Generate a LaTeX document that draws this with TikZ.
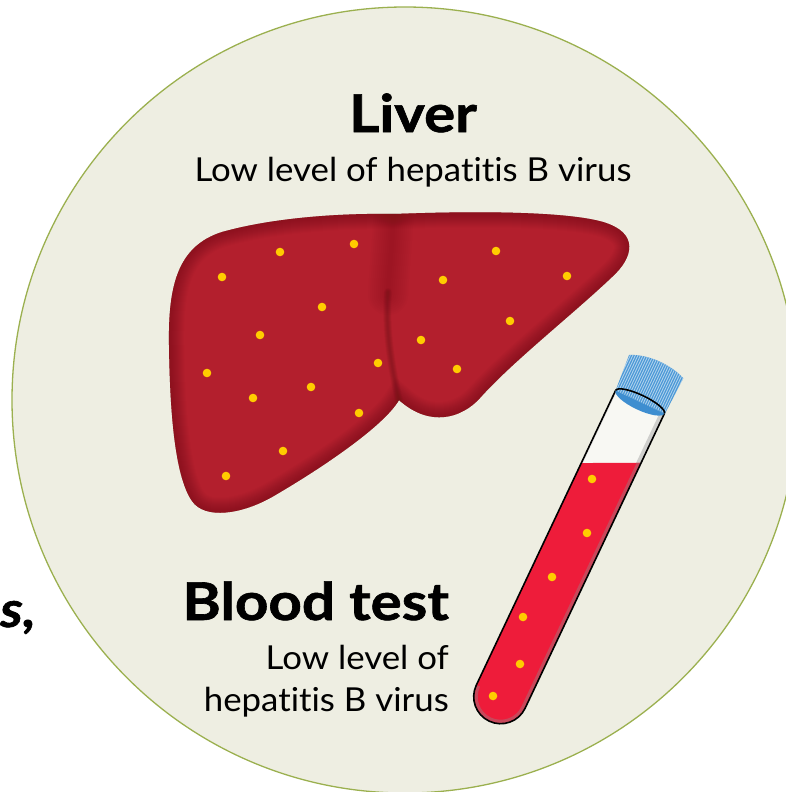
\documentclass[tikz,border=0pt]{standalone}
\usepackage{fontspec}
\setmainfont{Lato}[Ligatures=NoCommon]
\newfontfamily\headfont{Lato}[Ligatures=NoCommon, FakeStretch=1.12, FakeBold=1.2]
\newfontfamily\bodyfont{Lato}[Ligatures=NoCommon, FakeStretch=1.055]
\begin{document}
\begin{tikzpicture}[x=1pt,y=-1pt,
  heading/.style={inner sep=0pt, font=\headfont\bfseries\fontsize{52}{60}\selectfont},
  subtext/.style={inner sep=0pt, font=\bodyfont\fontsize{33}{40}\selectfont},
  virus/.style={fill=dotyellow},
  tubeline/.style={draw=black, line width=1.6pt, line join=round}]
\definecolor{circfill}{HTML}{EEEEE2}
\definecolor{circline}{HTML}{9BB04F}
\definecolor{liverbase}{HTML}{B31F2D}
\definecolor{liverdark}{HTML}{6E1218}
\definecolor{dotyellow}{HTML}{FFCC00}
\definecolor{liquid}{HTML}{EE1C3A}
\definecolor{liquidedge}{HTML}{C8475A}
\definecolor{glass}{HTML}{F8F8F3}
\definecolor{glassshade}{HTML}{CFCFCC}
\definecolor{capblue}{HTML}{4A98D6}
\definecolor{capdark}{HTML}{3E8ED0}

\useasboundingbox (0,0) rectangle (786,792);
\clip (0,0) rectangle (786,792);

% background disc
\path[fill=circfill, draw=circline, line width=1.3pt] (405,400) circle (393);

% fragment of a neighbouring heading
\node[heading, font=\headfont\bfseries\itshape\fontsize{50}{60}\selectfont, anchor=base west] (frag) at (0,627) {s,};

% ---------- liver ----------
\def\liverpath{(395,214)
  .. controls (470,211) and (565,211) .. (603,222)
  .. controls (640,233) and (633,258) .. (612,277)
  .. controls (572,315) and (512,362) .. (480,398)
  .. controls (462,418) and (430,428) .. (399,400)
  .. controls (384,426) and (322,468) .. (272,497)
  .. controls (242,514) and (205,520) .. (192,501)
  .. controls (176,478) and (170,420) .. (169,345)
  .. controls (168,285) and (178,246) .. (222,232)
  .. controls (272,218) and (338,213) .. (395,214) -- cycle}
\fill[liverbase] \liverpath;
\begin{scope}
  \clip \liverpath;
  % darker rim fading inwards
  \foreach \w in {2,4,...,30}
    \draw[line width=\w pt, draw=liverdark, opacity=0.045] \liverpath;
  % soft shading where the lobes meet
  \foreach \w in {4,8,...,40}
    \draw[line width=\w pt, draw=liverdark, opacity=0.03, line cap=round]
      (394,200) .. controls (393,240) and (389,270) .. (388,295);
  \foreach \w in {1,2,...,8}
    \draw[line width=\w pt, draw=liverdark, opacity=0.07, line cap=round]
      (388,292) .. controls (385,330) and (392,370) .. (399,401);
\end{scope}

\foreach \p in {(222,277),(280,252),(354,244),(322,307),(260,335),(207,373),
                (253,398),(311,387),(378,363),(359,413),(283,451),(226,476),
                (443,280),(496,251),(567,276),(510,321),(421,340),(457,369)}
  \fill[virus] \p circle (4.3);

% ---------- test tube ----------
\def\tubein{(-27,0) -- (-27,326) arc[start angle=180, end angle=0, radius=27] -- (27,0) -- cycle}
\def\liquidzone{(-40,86.4) -- (40,48.5) -- (40,420) -- (-40,420) -- cycle}
\def\capbody{(-30,-38) .. controls (-12,-47) and (12,-47) .. (29,-40) -- (27.5,0) -- (-27,0) -- cycle}
\begin{scope}[shift={(640,402)}, rotate=-25.3]
  \fill[glass] \tubein;
  \begin{scope}
    \clip \tubein;
    \draw[line width=9pt, glassshade] (27,-5) -- (27,330);
    \draw[line width=3pt, glassshade!60] (-27,-5) -- (-27,330);
    \fill[liquid] \liquidzone;
    \clip \liquidzone;
    \draw[line width=8pt, liquidedge] (27,0) -- (27,326) arc[start angle=0, end angle=180, radius=27];
  \end{scope}
  \draw[tubeline] (-27,0) -- (-27,326) arc[start angle=180, end angle=0, radius=27] -- (27,0);
  % screw cap with ribs
  \fill[capblue] \capbody;
  \begin{scope}
    \clip \capbody;
    \foreach \i in {-31,-28.7,...,31}
      \draw[white, opacity=0.55, line width=0.9pt] (\i,-50) -- (\i,2);
  \end{scope}
  \fill[capdark] (-27,0) arc[start angle=180, end angle=0, x radius=27, y radius=8] -- cycle;
  \draw[tubeline] (-27,0) arc[start angle=180, end angle=360, x radius=27, y radius=7];
\end{scope}

\foreach \p in {(592,479),(587,533),(552,577),(523,617),(520,664),(493,696)}
  \fill[virus] \p circle (4.3);

% ---------- labels ----------
\node[heading, anchor=base] (livertitle) at (413,132) {Liver};
\node[subtext, anchor=base] (liversub) at (413,181) {Low level of hepatitis B virus};
\node[heading, anchor=base east] (bloodtitle) at (449,620) {Blood test};
\node[subtext, anchor=base east] (bloodsub1) at (449,669) {Low level of};
\node[subtext, anchor=base east] (bloodsub2) at (449,711) {hepatitis B virus};
\end{tikzpicture}
\end{document}
